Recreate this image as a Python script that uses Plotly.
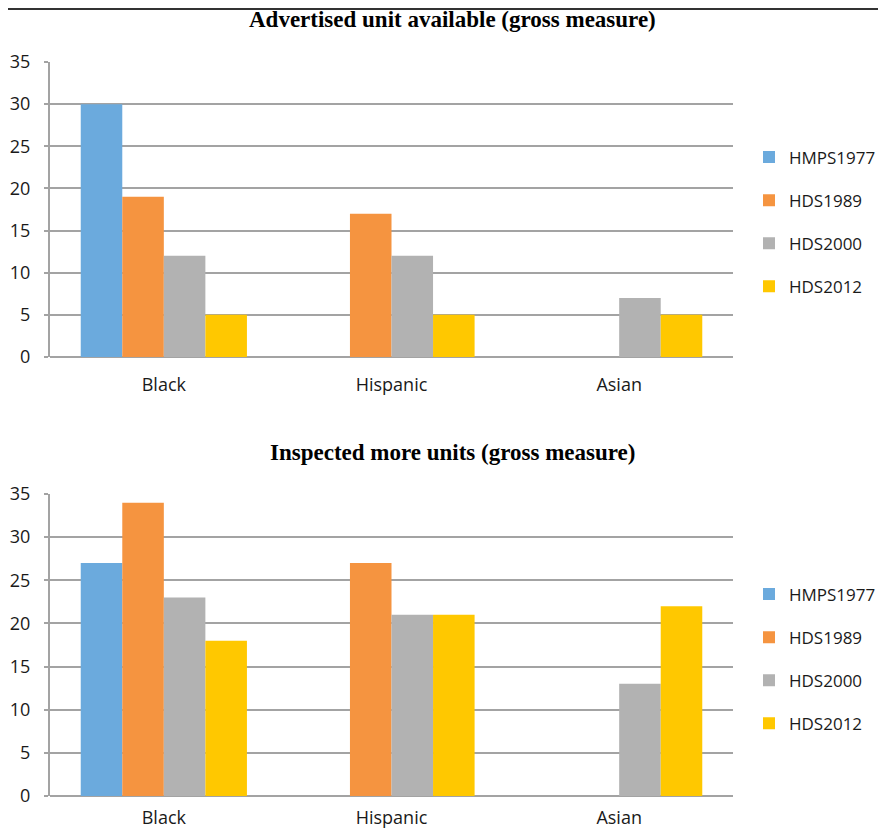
import plotly.graph_objects as go

categories = ["Black", "Hispanic", "Asian"]
series_names = ["HMPS1977", "HDS1989", "HDS2000", "HDS2012"]
colors = ["#6BAADD", "#F59440", "#B2B2B2", "#FFC800"]

advertised = {
    "HMPS1977": [30, None, None],
    "HDS1989": [19, 17, None],
    "HDS2000": [12, 12, 7],
    "HDS2012": [5, 5, 5],
}
inspected = {
    "HMPS1977": [27, None, None],
    "HDS1989": [34, 27, None],
    "HDS2000": [23, 21, 13],
    "HDS2012": [18, 21, 22],
}
title_top = "Advertised unit available (gross measure)"
title_bottom = "Inspected more units (gross measure)"
y_ticks = [0, 5, 10, 15, 20, 25, 30, 35]

# page body has an 8px margin; work in window pixels and convert
OFF = 8
W, H = 886 - OFF, 833 - OFF

def px(x):
    return (x - OFF) / W

def py(y):
    return 1 - (y - OFF) / H

fig = go.Figure()

for i, name in enumerate(series_names):
    fig.add_trace(go.Bar(x=categories, y=advertised[name], name=name,
                         marker=dict(color=colors[i], line=dict(width=0)),
                         xaxis="x", yaxis="y", legend="legend",
                         legendgroup="a" + name))
for i, name in enumerate(series_names):
    fig.add_trace(go.Bar(x=categories, y=inspected[name], name=name,
                         marker=dict(color=colors[i], line=dict(width=0)),
                         xaxis="x2", yaxis="y2", legend="legend2",
                         legendgroup="b" + name))

grid = "#A3A3A3"
tickfont = dict(family="Open Sans", size=18, color="#1a1a1a")

def xax(anchor, standoff):
    return dict(domain=[px(50), px(733)], anchor=anchor, showgrid=False,
                showline=False, ticks="", tickfont=tickfont,
                ticklabelstandoff=standoff, zeroline=False, automargin=False)

def yax(anchor, top_px, bot_px):
    return dict(domain=[py(bot_px), py(top_px)], anchor=anchor,
                range=[0, 35], tickvals=y_ticks, showgrid=True,
                gridcolor=grid, gridwidth=2, showline=True, linecolor=grid,
                linewidth=2, ticks="outside", ticklen=4, tickcolor=grid,
                tickwidth=2, tickfont=tickfont, ticklabelstandoff=10,
                zeroline=True, zerolinecolor=grid, zerolinewidth=2,
                automargin=False)

legend_common = dict(xref="paper", yref="paper", xanchor="left",
                     yanchor="middle",
                     font=dict(family="Open Sans", size=17, color="#1a1a1a"),
                     tracegroupgap=18, itemwidth=30, bgcolor="rgba(0,0,0,0)",
                     traceorder="grouped")

title_font = dict(family="Liberation Serif", size=23, color="#000")

fig.update_layout(
    width=W, height=H,
    margin=dict(l=0, r=0, t=0, b=0, autoexpand=False),
    paper_bgcolor="white", plot_bgcolor="white",
    barmode="group", bargap=0.27, bargroupgap=0,
    xaxis=xax("y", 15), yaxis=yax("x", 62, 357),
    xaxis2=xax("y2", 9), yaxis2=yax("x2", 494, 796),
    legend=dict(x=px(749), y=py(222), **legend_common),
    legend2=dict(x=px(749), y=py(659), **legend_common),
    showlegend=True,
    annotations=[
        dict(text="<b>" + title_top + "</b>", x=px(452), y=py(20),
             xref="paper", yref="paper", showarrow=False, yanchor="middle",
             font=title_font),
        dict(text="<b>" + title_bottom + "</b>", x=px(452), y=py(452),
             xref="paper", yref="paper", showarrow=False, yanchor="middle",
             font=title_font),
    ],
    shapes=[dict(type="line", xref="paper", yref="paper", x0=0, x1=1,
                 y0=1 - 1 / H, y1=1 - 1 / H, line=dict(color="#333", width=2))],
)

fig.write_html("out.html")
